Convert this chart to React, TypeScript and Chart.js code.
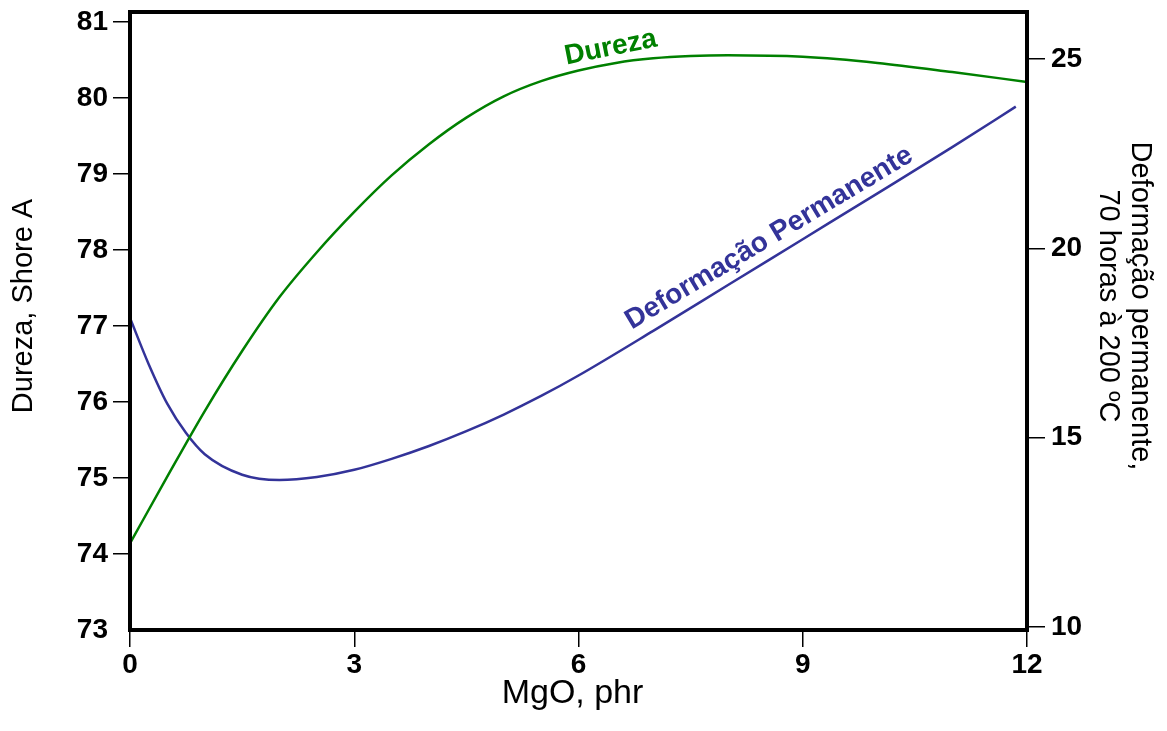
import React, { useEffect, useRef } from 'react';
import { Chart, registerables } from 'chart.js';

Chart.register(...registerables);

// ---- Data ----
const MGO_DUREZA = [0, 0.5, 1, 1.5, 2, 2.5, 3, 3.5, 4, 4.5, 5, 5.5, 6, 6.5, 7, 7.5, 8, 9, 10, 11, 12];
const DUREZA = [74.14, 75.02, 75.88, 76.67, 77.38, 77.97, 78.5, 78.98, 79.39, 79.74, 80.02, 80.22, 80.36, 80.46, 80.52, 80.55, 80.56, 80.54, 80.46, 80.34, 80.21];

const MGO_DEF = [0, 0.25, 0.5, 0.75, 1, 1.5, 2, 2.5, 3, 3.5, 4, 4.5, 5, 5.5, 6, 7, 8, 9, 10, 11, 11.85];
const DEFORMACAO = [18.16, 16.94, 15.89, 15.12, 14.56, 14.02, 13.88, 13.96, 14.15, 14.44, 14.78, 15.17, 15.61, 16.1, 16.64, 17.82, 19.03, 20.24, 21.45, 22.67, 23.74];

const X_TICKS = [0, 3, 6, 9, 12];
const LEFT_TICKS = [73, 74, 75, 76, 77, 78, 79, 80, 81];
const RIGHT_TICKS = [10, 15, 20, 25];

const X_TITLE = 'MgO, phr';
const LEFT_TITLE = 'Dureza, Shore A';
const RIGHT_TITLE = ['Deformação permanente,', '70 horas à 200 ºC'];

const GREEN = '#008000';
const BLUE = '#333399';
const FONT = '"Liberation Sans", Arial, Helvetica, sans-serif';

const CURVE_LABELS = [
  { text: 'Dureza', x: 6.43, y: 80.66, axis: 'yL', angle: -11.3, color: GREEN },
  { text: 'Deformação Permanente', x: 8.55, y: 20.27, axis: 'yR', angle: -31, color: BLUE },
];

const framePlugin = {
  id: 'frame',
  afterDatasetsDraw(chart: any) {
    const { ctx, chartArea } = chart;
    ctx.save();
    ctx.strokeStyle = '#000';
    ctx.lineWidth = 4;
    ctx.strokeRect(chartArea.left, chartArea.top, chartArea.right - chartArea.left, chartArea.bottom - chartArea.top);
    ctx.restore();
  },
};

const labelsPlugin = {
  id: 'curveLabels',
  afterDraw(chart: any) {
    const { ctx, scales, chartArea, width } = chart;
    for (const l of CURVE_LABELS) {
      const px = scales.x.getPixelForValue(l.x);
      const py = scales[l.axis].getPixelForValue(l.y);
      ctx.save();
      ctx.translate(px, py);
      ctx.rotate((l.angle * Math.PI) / 180);
      ctx.font = `bold 28px ${FONT}`;
      ctx.fillStyle = l.color;
      ctx.textAlign = 'center';
      ctx.textBaseline = 'middle';
      ctx.fillText(l.text, 0, 0);
      ctx.restore();
    }

    // axis titles
    const cy = (chartArea.top + chartArea.bottom) / 2 - 15;
    ctx.save();
    ctx.fillStyle = '#000';
    ctx.textAlign = 'center';
    ctx.textBaseline = 'middle';
    ctx.font = `29px ${FONT}`;
    ctx.save();
    ctx.translate(24, cy);
    ctx.rotate(-Math.PI / 2);
    ctx.fillText(LEFT_TITLE, 0, 0);
    ctx.restore();
    ctx.save();
    ctx.translate(width - 27, cy);
    ctx.rotate(Math.PI / 2);
    RIGHT_TITLE.forEach((t, i) => ctx.fillText(t, 0, i * 32));
    ctx.restore();
    ctx.font = `34px ${FONT}`;
    ctx.textBaseline = 'alphabetic';
    ctx.fillText(X_TITLE, (chartArea.left + chartArea.right) / 2 - 6, 703);
    ctx.restore();
  },
};

function fixed(values: number[]) {
  return (scale: any) => {
    scale.ticks = values.map((v) => ({ value: v }));
  };
}

export default function App() {
  const ref = useRef<HTMLCanvasElement | null>(null);

  useEffect(() => {
    if (!ref.current) return;
    const tickFont = { family: FONT, size: 28, weight: 'bold' as const };
    const chart = new Chart(ref.current, {
      type: 'scatter',
      data: {
        datasets: [
          {
            label: 'Dureza',
            data: MGO_DUREZA.map((x, i) => ({ x, y: DUREZA[i] })),
            yAxisID: 'yL',
            showLine: true,
            borderColor: GREEN,
            borderWidth: 2.5,
            pointRadius: 0,
            cubicInterpolationMode: 'monotone',
          },
          {
            label: 'Deformação Permanente',
            data: MGO_DEF.map((x, i) => ({ x, y: DEFORMACAO[i] })),
            yAxisID: 'yR',
            showLine: true,
            borderColor: BLUE,
            borderWidth: 2.5,
            pointRadius: 0,
            cubicInterpolationMode: 'monotone',
          },
        ],
      },
      options: {
        responsive: false,
        animation: false,
        devicePixelRatio: 1,
        layout: { padding: { top: 12, left: 0, right: 0, bottom: 0 } },
        plugins: { legend: { display: false }, tooltip: { enabled: false } },
        scales: {
          x: {
            type: 'linear',
            position: 'bottom',
            min: 0,
            max: 12,
            afterBuildTicks: fixed(X_TICKS),
            afterFit: (s: any) => {
              s.height = 101;
              s.paddingLeft = 0;
              s.paddingRight = 0;
            },
            border: { display: false },
            grid: { drawOnChartArea: false, drawTicks: true, tickLength: 17, color: '#000', lineWidth: 1.5 },
            ticks: { font: tickFont, color: '#000', padding: 1, maxRotation: 0, autoSkip: false },
            title: { display: false },
          },
          yL: {
            type: 'linear',
            position: 'left',
            min: 73,
            max: 81.13,
            afterBuildTicks: fixed(LEFT_TICKS),
            afterFit: (s: any) => {
              s.width = 130;
              s.paddingTop = 0;
              s.paddingBottom = 0;
            },
            border: { display: false },
            grid: {
              drawOnChartArea: false,
              drawTicks: true,
              tickLength: 17,
              color: '#000',
              lineWidth: 1.5,
              tickColor: (c: any) => (c.tick && c.tick.value === 73 ? 'rgba(0,0,0,0)' : '#000'),
            },
            ticks: { font: tickFont, color: '#000', padding: 5, autoSkip: false },
            title: { display: false },
          },
          yR: {
            type: 'linear',
            position: 'right',
            min: 9.92,
            max: 26.24,
            afterBuildTicks: fixed(RIGHT_TICKS),
            afterFit: (s: any) => {
              s.width = 140;
              s.paddingTop = 0;
              s.paddingBottom = 0;
            },
            border: { display: false },
            grid: { drawOnChartArea: false, drawTicks: true, tickLength: 18, color: '#000', lineWidth: 1.5 },
            ticks: { font: tickFont, color: '#000', padding: 6, autoSkip: false },
            title: { display: false },
          },
        },
      },
      plugins: [framePlugin, labelsPlugin],
    } as any);
    return () => chart.destroy();
  }, []);

  return (
    <div style={{ position: 'fixed', left: 0, top: 0, width: 1167, height: 731, background: '#fff' }}>
      <canvas ref={ref} width={1167} height={731} style={{ display: 'block' }} />
    </div>
  );
}
